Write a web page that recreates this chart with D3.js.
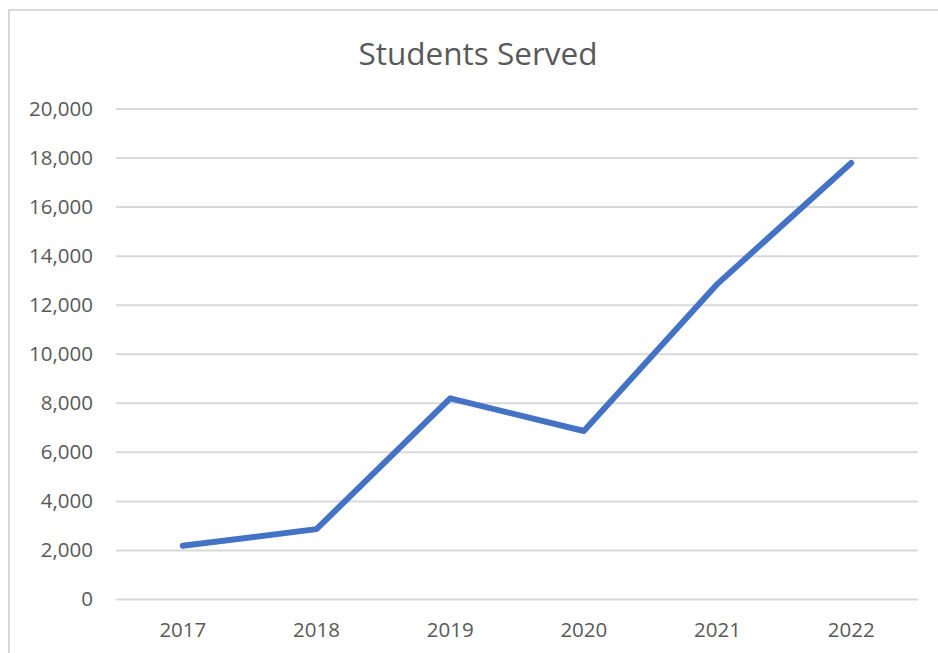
<!DOCTYPE html>
<html>
<head>
<meta charset="utf-8">
<script src="https://cdn.jsdelivr.net/npm/d3@7"></script>
<style>
  body { margin: 0; background: #fff; }
  svg text { font-family: "Open Sans", sans-serif; fill: #595959; }
</style>
</head>
<body>
<div id="chart"></div>
<script>
const years = ["2017", "2018", "2019", "2020", "2021", "2022"];
const studentsServed = [2170, 2850, 8180, 6850, 12850, 17780];
const yTicks = [0, 2000, 4000, 6000, 8000, 10000, 12000, 14000, 16000, 18000, 20000];

const width = 938;
const height = 653;
const margin = { top: 108.5, right: 20, bottom: 54, left: 116 };

const svg = d3
  .select("#chart")
  .append("svg")
  .attr("width", width)
  .attr("height", height);

// chart frame (only top and left edges are visible in the crop)
svg
  .append("rect")
  .attr("x", 9)
  .attr("y", 10)
  .attr("width", width + 20)
  .attr("height", height + 20)
  .attr("fill", "none")
  .attr("stroke", "#d9d9d9")
  .attr("stroke-width", 2);

svg
  .append("text")
  .attr("x", 478)
  .attr("y", 65)
  .attr("text-anchor", "middle")
  .style("font-size", "31.5px")
  .text("Students Served");

const x = d3
  .scaleBand()
  .domain(years)
  .range([margin.left, width - margin.right]);

const y = d3
  .scaleLinear()
  .domain([0, 20000])
  .range([height - margin.bottom, margin.top]);

// gridlines + y labels
const yAxis = d3
  .axisLeft(y)
  .tickValues(yTicks)
  .tickFormat(d3.format(","))
  .tickSize(-(width - margin.left - margin.right))
  .tickPadding(23);

svg
  .append("g")
  .attr("transform", `translate(${margin.left},0)`)
  .call(yAxis)
  .call((g) => g.select(".domain").remove())
  .call((g) =>
    g.selectAll(".tick line").attr("stroke", "#d9d9d9").attr("stroke-width", 2)
  )
  .call((g) => g.selectAll(".tick text").style("font-size", "20.5px"));

const xAxis = d3.axisBottom(x).tickSize(0).tickPadding(23);

svg
  .append("g")
  .attr("transform", `translate(0,${height - margin.bottom})`)
  .call(xAxis)
  .call((g) => g.select(".domain").remove())
  .call((g) => g.selectAll(".tick text").style("font-size", "20.5px"));

const line = d3
  .line()
  .x((d, i) => x(years[i]) + x.bandwidth() / 2)
  .y((d) => y(d));

svg
  .append("path")
  .datum(studentsServed)
  .attr("fill", "none")
  .attr("stroke", "#4472c4")
  .attr("stroke-width", 6)
  .attr("stroke-linejoin", "round")
  .attr("stroke-linecap", "round")
  .attr("d", line);
</script>
</body>
</html>
